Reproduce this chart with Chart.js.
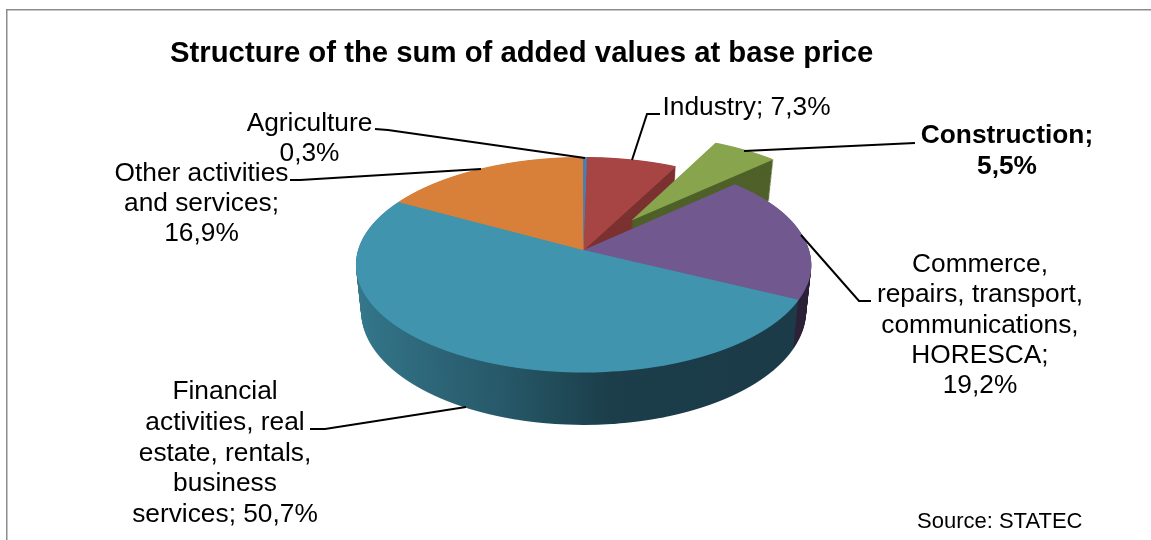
<!DOCTYPE html>
<html>
<head>
<meta charset="utf-8">
<title>Structure of the sum of added values</title>
<script src="https://cdn.jsdelivr.net/npm/chart.js@4"></script>
<style>
    html, body { margin: 0; padding: 0; background: #fff; }
    canvas { display: block; }
</style>
</head>
<body>
<canvas id="pie" width="1151" height="540"></canvas>
<script>
//chart data
const categories = ['Industry', 'Construction', 'Commerce, repairs, transport, communications, HORESCA',
    'Financial activities, real estate, rentals, business services', 'Other activities and services', 'Agriculture'];
const shares = [7.3, 5.5, 19.2, 50.7, 16.9, 0.3];
const labelLines = [
    ['Industry; 7,3%'],
    ['Construction;', '5,5%'],
    ['Commerce,', 'repairs, transport,', 'communications,', 'HORESCA;', '19,2%'],
    ['Financial', 'activities, real', 'estate, rentals,', 'business', 'services; 50,7%'],
    ['Other activities', 'and services;', '16,9%'],
    ['Agriculture', '0,3%']
];
const titleText = 'Structure of the sum of added values at base price';
const sourceText = 'Source: STATEC';

//colours
const topColors = ['#a64543', '#88a44c', '#71588f', '#4094ae', '#d88039', '#4a7eb0'];
const wallColors = ['#7a312f', '#4f6129', '#2e2339', null, '#9c5a26', '#2f5578'];

//label placement: centre x, first line y, line step
const labelSpots = [
    [746.5, 108, 30], [1007, 136, 31], [980, 265, 30.2], [225, 392, 30.7], [201.5, 174, 30], [309.5, 124, 30]
];
//leader lines
const leaders = [
    [[632, 160], [647, 114], [660, 114]],
    [[744, 151], [915, 143]],
    [[801, 235], [859, 301], [871, 301]],
    [[466, 407], [325, 429], [310, 429]],
    [[481, 169], [300, 180], [290, 180]],
    [[585, 158], [388, 130], [375, 129]]
];

//3d view of the pie
const centerX = 583.5, centerY = 250;
const squash = 105.5, tilt = 0.134, depth = 46, depthShrink = 0.0005;
const startRotation = 1;
const explodedIndex = 1, explodeDist = 82;
const fontName = '"Liberation Sans", Arial, sans-serif';

//draws one arc through the perspective, row by row
function drawArcRows(chart, arc, color, drop) {
    const ctx = chart.ctx;
    const R = arc.outerRadius;
    const rowFrom = Math.floor(centerY + (drop - squash * 1.45) / (1 + tilt * 1.45));
    const rowTo = Math.ceil(centerY + (drop + squash * 1.05) / (1 - tilt * 1.05));
    const piece = Object.create(arc);
    piece.options = Object.assign({}, arc.options, { backgroundColor: color, borderWidth: 0 });

    for (let row = rowFrom; row < rowTo; row++) {
        const Y = row + 0.5 - centerY;
        const v = (Y - drop) / (squash + tilt * Y);
        const w = 1 / (1 - tilt * v);
        const xScale = w * (1 - depthShrink * drop);
        const yScale = (squash + tilt * drop) * w * w / R;
        ctx.save();
        ctx.beginPath();
        ctx.rect(0, row, chart.width, 1);
        ctx.clip();
        ctx.setTransform(xScale, 0, 0, yScale, centerX - xScale * arc.chartCx, row + 0.5 - yScale * (arc.chartCy + v * R));
        piece.draw(ctx);
        ctx.restore();
    }
}

const pie3d = {
    id: 'pie3d',
    beforeDatasetsDraw(chart) {
        const arcs = chart.getDatasetMeta(0).data;
        const ctx = chart.ctx;
        const wallShade = ctx.createLinearGradient(356, 0, 811, 0);
        wallShade.addColorStop(0, '#3f8aa0');
        wallShade.addColorStop(0.22, '#337488');
        wallShade.addColorStop(0.5, '#275a6a');
        wallShade.addColorStop(0.72, '#1b3e4a');
        wallShade.addColorStop(1, '#1a3b47');

        const pieces = arcs.map((arc, i) => {
            const piece = Object.create(arc);
            piece.chartCx = arc.x;
            piece.chartCy = arc.y;
            if (i === explodedIndex) {
                const mid = (arc.startAngle + arc.endAngle) / 2;
                piece.x = arc.x + Math.cos(mid) * explodeDist;
                piece.y = arc.y + Math.sin(mid) * explodeDist;
            }
            return piece;
        });

        //side walls first
        for (let d = depth; d > 0; d -= 1) {
            pieces.forEach((piece, i) => {
                if (i !== explodedIndex) {
                    drawArcRows(chart, piece, wallColors[i] || wallShade, d);
                }
            });
        }
        //flat backing so that no wall colour shows through between slices
        pieces.forEach((piece, i) => {
            if (i !== explodedIndex) {
                drawArcRows(chart, piece, topColors[i], 0.6);
            }
        });
        //exploded slice sits behind the commerce slice
        for (let d = depth; d > 0; d -= 1) {
            drawArcRows(chart, pieces[explodedIndex], wallColors[explodedIndex], d);
        }
        pieces.forEach((piece, i) => {
            drawArcRows(chart, piece, topColors[i], 0);
        });
        return false;
    },
    afterDraw(chart) {
        const ctx = chart.ctx;
        ctx.save();

        //frame
        ctx.strokeStyle = '#8c8c8c';
        ctx.lineWidth = 1.5;
        ctx.beginPath();
        ctx.moveTo(6.75, 540);
        ctx.lineTo(6.75, 9.75);
        ctx.lineTo(1151, 9.75);
        ctx.stroke();

        //leader lines
        ctx.strokeStyle = '#000';
        ctx.lineWidth = 2;
        leaders.forEach(points => {
            ctx.beginPath();
            points.forEach((p, i) => i ? ctx.lineTo(p[0], p[1]) : ctx.moveTo(p[0], p[1]));
            ctx.stroke();
        });

        //labels
        ctx.fillStyle = '#000';
        ctx.textAlign = 'center';
        ctx.textBaseline = 'middle';
        labelLines.forEach((lines, i) => {
            ctx.font = (i === explodedIndex ? 'bold ' : '') + '26.3px ' + fontName;
            lines.forEach((line, n) => {
                ctx.fillText(line, labelSpots[i][0], labelSpots[i][1] + n * labelSpots[i][2]);
            });
        });

        ctx.font = '22px ' + fontName;
        ctx.textAlign = 'left';
        ctx.fillText(sourceText, 917, 522);
        ctx.restore();
    }
};

new Chart(document.getElementById('pie'), {
    type: 'pie',
    data: {
        labels: categories,
        datasets: [{
            data: shares,
            backgroundColor: topColors,
            borderWidth: 0,
            radius: 225.5,
            rotation: startRotation
        }]
    },
    options: {
        responsive: false,
        animation: false,
        devicePixelRatio: 1,
        layout: { padding: { left: 170, top: 0 } },
        plugins: {
            legend: { display: false },
            tooltip: { enabled: false },
            title: {
                display: true,
                text: titleText,
                align: 'start',
                color: '#000',
                font: { family: fontName, size: 29.3, weight: 'bold' },
                padding: { top: 36, bottom: 10 }
            }
        }
    },
    plugins: [pie3d]
});
</script>
</body>
</html>
